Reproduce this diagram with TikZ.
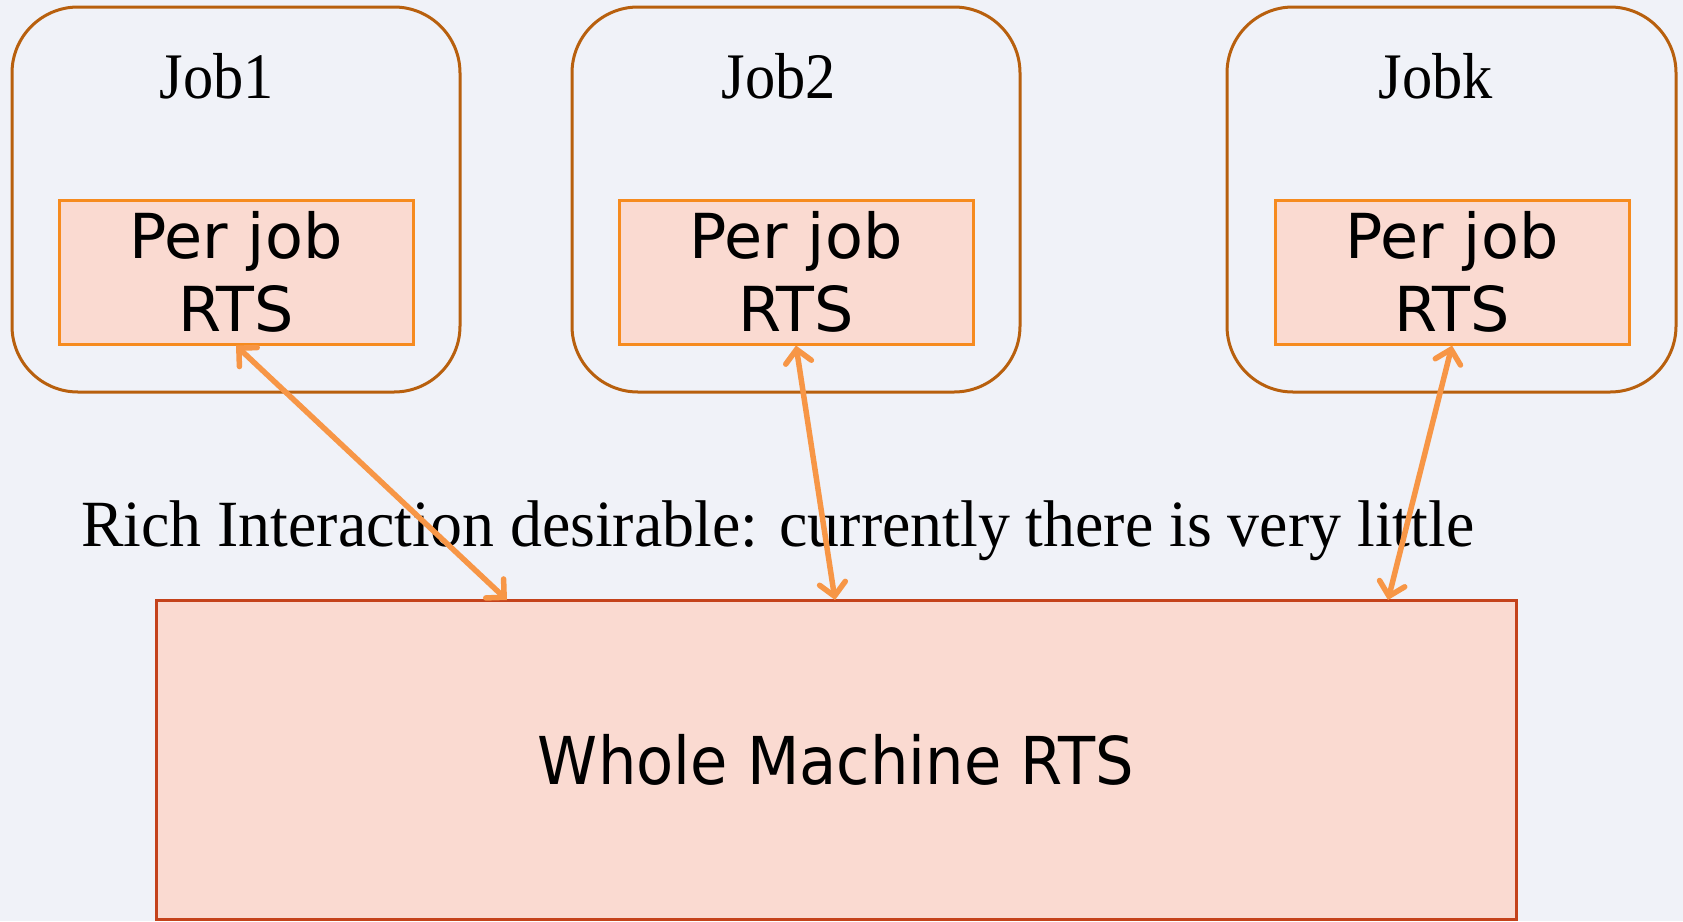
\documentclass[tikz,border=0pt]{standalone}
\usepackage{fontspec}
\setmainfont{Liberation Serif}
\newfontfamily\boxfont{DejaVu Sans}
\usetikzlibrary{arrows.meta}
\definecolor{bgc}{HTML}{F0F2F8}
\definecolor{jobedge}{HTML}{B8600E}
\definecolor{rtsedge}{HTML}{F68B1F}
\definecolor{rtsfill}{HTML}{FADAD1}
\definecolor{bigedge}{HTML}{C4421B}
\definecolor{arrc}{HTML}{F79646}
\tikzset{
  jobbox/.style={draw=jobedge, line width=3pt, rounded corners=66pt, minimum width=448pt, minimum height=385pt, inner sep=0pt},
  rtsbox/.style={draw=rtsedge, fill=rtsfill, line width=3pt, minimum width=354pt, minimum height=144pt, inner sep=0pt, align=center, font=\boxfont\fontsize{62}{73}\selectfont},
  bigbox/.style={draw=bigedge, fill=rtsfill, line width=3pt, minimum width=1360pt, minimum height=319pt, inner sep=0pt, font=\boxfont\fontsize{66}{70}\selectfont},
  joblabel/.style={anchor=base, inner sep=0pt, font=\fontsize{65}{70}\selectfont},
  arr/.style={draw=arrc, line width=5.5pt, line cap=round, {Straight Barb[length=13pt,width=26pt,line cap=round]}-{Straight Barb[length=13pt,width=26pt,line cap=round]}}
}
\begin{document}
\begin{tikzpicture}[x=1pt,y=-1pt]
\fill[bgc] (0,0) rectangle (1683,921);
\useasboundingbox (0,0) rectangle (1683,921);
\node[jobbox] (j1) at (236,199.5) {};
\node[jobbox] (j2) at (796,199.5) {};
\node[jobbox, minimum width=449pt] (jk) at (1451.5,199.5) {};
\node[joblabel] (l1) at (217,98) {\scalebox{0.93}[1]{Job1}};
\node[joblabel] (l2) at (779,98) {\scalebox{0.93}[1]{Job2}};
\node[joblabel] (lk) at (1436,98) {\scalebox{0.93}[1]{Jobk}};
\node[rtsbox] (p1) at (236,272) {Per job\\RTS};
\node[rtsbox] (p2) at (796,272) {Per job\\RTS};
\node[rtsbox] (pk) at (1452,272) {Per job\\RTS};
\node[bigbox] (big) at (836,759.5) {\scalebox{0.92}[1]{Whole Machine RTS}};
\node[anchor=base west, inner sep=0pt, font=\fontsize{66}{70}\selectfont] (rich) at (81,546) {\scalebox{0.967}[1]{Rich Interaction desirable: currently there is very little}};
\coordinate (t1) at (507,600);
\coordinate (t2) at (835,600);
\coordinate (tk) at (1388,600);
\draw[arr] (p1.south) -- (t1);
\draw[arr] (p2.south) -- (t2);
\draw[arr] (pk.south) -- (tk);
\end{tikzpicture}
\end{document}
